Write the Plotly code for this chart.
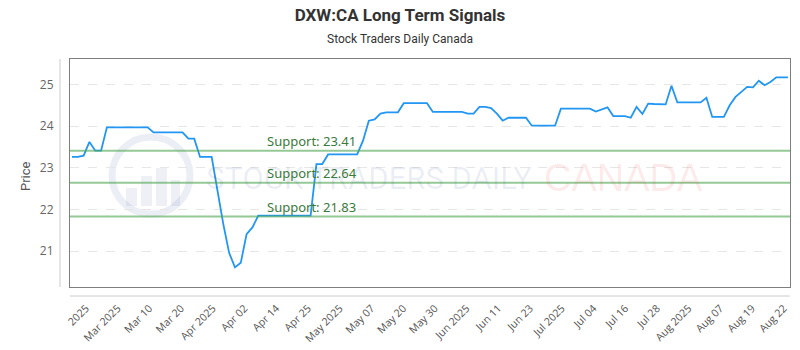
import plotly.graph_objects as go
import numpy as np

# ---- data ----
prices = [
    23.26, 23.26, 23.29, 23.62, 23.41, 23.41, 23.97, 23.97, 23.97, 23.97,
    23.97, 23.97, 23.97, 23.97, 23.85, 23.85, 23.85, 23.85, 23.85, 23.85,
    23.70, 23.70, 23.26, 23.26, 23.26, 22.45, 21.65, 20.96, 20.61, 20.72,
    21.41, 21.57, 21.85, 21.85, 21.85, 21.85, 21.85, 21.85, 21.85, 21.85,
    21.85, 21.85, 23.09, 23.09, 23.32, 23.32, 23.32, 23.32, 23.32, 23.32,
    23.65, 24.13, 24.16, 24.30, 24.33, 24.33, 24.33, 24.55, 24.55, 24.55,
    24.55, 24.55, 24.34, 24.34, 24.34, 24.34, 24.34, 24.34, 24.30, 24.30,
    24.46, 24.46, 24.43, 24.30, 24.13, 24.20, 24.20, 24.20, 24.20, 24.01,
    24.01, 24.01, 24.01, 24.01, 24.42, 24.42, 24.42, 24.42, 24.42, 24.42,
    24.35, 24.40, 24.45, 24.24, 24.24, 24.24, 24.20, 24.46, 24.29, 24.54,
    24.53, 24.53, 24.52, 24.97, 24.57, 24.57, 24.57, 24.57, 24.57, 24.68,
    24.22, 24.22, 24.22, 24.50, 24.70, 24.82, 24.94, 24.93, 25.09, 24.98,
    25.06, 25.17, 25.17, 25.17,
]
tick_labels = [
    "2025", "Mar 2025", "Mar 10", "Mar 20", "Apr 2025", "Apr 02", "Apr 14",
    "Apr 25", "May 2025", "May 07", "May 20", "May 30", "Jun 2025", "Jun 11",
    "Jun 23", "Jul 2025", "Jul 04", "Jul 16", "Jul 28", "Aug 2025", "Aug 07",
    "Aug 19", "Aug 22",
]
support_levels = [23.41, 22.64, 21.83]
y_ticks = [21, 22, 23, 24, 25]

x_idx = list(range(len(prices)))
tick_pos = np.linspace(2.4, len(prices) - 1.7, len(tick_labels))

# ---- layout geometry (pixels) ----
W, H = 800, 350
L, R, T, B = 70, 790, 59, 287


def px(xp):
    return (xp - L) / (R - L)


def py(yp):
    return (B - yp) / (B - T)


fig = go.Figure()
fig.add_trace(go.Scatter(
    x=x_idx, y=prices, mode="lines",
    line=dict(color="#2196f3", width=1.8),
    hoverinfo="skip", showlegend=False,
))

shapes = []
annotations = []

# watermark logo
shapes.append(dict(type="circle", xref="paper", yref="paper",
                   x0=px(112), x1=px(190), y0=py(214), y1=py(137),
                   line=dict(color="rgba(40,70,140,0.09)", width=7),
                   fillcolor="rgba(0,0,0,0)", layer="below"))
for (bx0, bx1, by0) in [(126, 137, 188), (141, 152, 176), (156, 167, 168), (171, 180, 180)]:
    shapes.append(dict(type="rect", xref="paper", yref="paper",
                       x0=px(bx0), x1=px(bx1), y0=py(206), y1=py(by0),
                       line=dict(width=0), fillcolor="rgba(40,70,140,0.08)",
                       layer="below"))
annotations.append(dict(text="STOCK TRADERS DAILY", xref="paper", yref="paper",
                        x=px(204), y=py(178), xanchor="left", yanchor="middle",
                        showarrow=False,
                        font=dict(family="Roboto", size=31,
                                  color="rgba(40,70,140,0.09)")))
annotations.append(dict(text="CANADA", xref="paper", yref="paper",
                        x=px(542), y=py(178), xanchor="left", yanchor="middle",
                        showarrow=False,
                        font=dict(family="Liberation Sans", size=38,
                                  color="rgba(240,40,40,0.1)")))

# support lines
for lvl in support_levels:
    shapes.append(dict(type="line", xref="paper", yref="y", x0=0, x1=1,
                       y0=lvl, y1=lvl,
                       line=dict(color="rgba(76,165,80,0.6)", width=2)))
    annotations.append(dict(text=f"Support: {lvl:.2f}", xref="paper", yref="y",
                            x=px(265), y=lvl, xanchor="left", yanchor="bottom",
                            yshift=-1, showarrow=False,
                            font=dict(family="Noto Sans", size=13, color="#3a7a3a")))

# offset axis lines (Highcharts style)
shapes.append(dict(type="line", xref="paper", yref="paper",
                   x0=px(60), x1=px(60), y0=0, y1=1,
                   line=dict(color="#cccccc", width=1)))
shapes.append(dict(type="line", xref="paper", yref="paper",
                   x0=0, x1=1, y0=py(296), y1=py(296),
                   line=dict(color="#cccccc", width=1)))

# subtitle, y-axis title
annotations.append(dict(text="Stock Traders Daily Canada", xref="paper", yref="paper",
                        x=px(400), y=py(39), xanchor="center",
                        yanchor="middle", showarrow=False,
                        font=dict(family="Roboto", size=12, color="#333333")))
annotations.append(dict(text="Price", xref="paper", yref="paper",
                        x=px(25), y=py(176), xanchor="center", yanchor="middle",
                        textangle=-90, showarrow=False,
                        font=dict(family="Roboto", size=13, color="#555555")))

fig.update_layout(
    width=W, height=H,
    margin=dict(l=L, r=W - R, t=T, b=H - B),
    paper_bgcolor="white", plot_bgcolor="white",
    title=dict(text="<b>DXW:CA Long Term Signals</b>", x=0.5, xanchor="center",
               y=1 - 15 / H, yanchor="middle", xref="container",
               font=dict(family="Roboto", size=17, color="#333333")),
    shapes=shapes, annotations=annotations,
    showlegend=False,
)
fig.update_xaxes(
    range=[-0.34, len(prices) - 1 + 0.36],
    tickvals=list(tick_pos), ticktext=tick_labels, tickangle=-45,
    ticks="outside", ticklen=10, tickcolor="rgba(0,0,0,0)",
    tickfont=dict(family="Open Sans", size=10.6, color="#555555"),
    showgrid=False, zeroline=False, automargin=False,
    showline=True, mirror=True, linecolor="#7f7f7f", linewidth=1,
)
fig.update_yaxes(
    range=[20.14, 25.61],
    tickvals=y_ticks,
    ticks="outside", ticklen=13, tickcolor="rgba(0,0,0,0)",
    tickfont=dict(family="Open Sans", size=12, color="#666666"),
    showgrid=True, gridcolor="#e6e6e6", griddash="dash", gridwidth=1,
    zeroline=False, automargin=False,
    showline=True, mirror=True, linecolor="#7f7f7f", linewidth=1,
)

fig.write_html("out.html")
